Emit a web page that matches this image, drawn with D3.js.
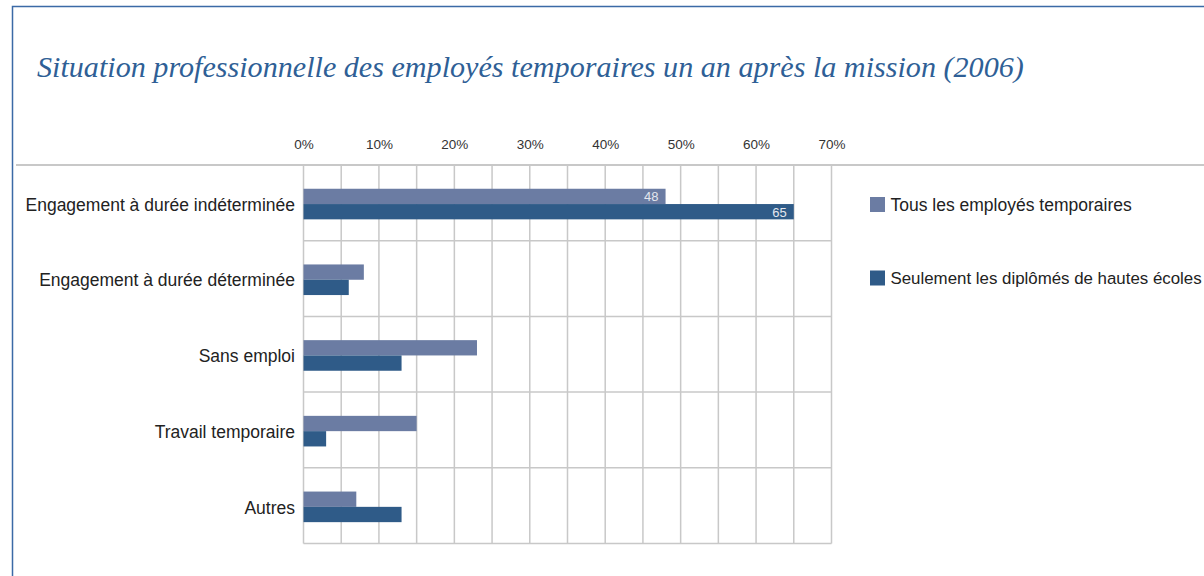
<!DOCTYPE html>
<html>
<head>
<meta charset="utf-8">
<script src="https://cdn.jsdelivr.net/npm/d3@7"></script>
<style>
  body { margin: 0; background: #fff; }
  svg { display: block; }
</style>
</head>
<body>
<div id="chart"></div>
<script>
// chart data
const categories = [
    "Engagement à durée indéterminée",
    "Engagement à durée déterminée",
    "Sans emploi",
    "Travail temporaire",
    "Autres"
];
const seriesNames = ["Tous les employés temporaires", "Seulement les diplômés de hautes écoles"];
const allTemps = [48, 8, 23, 15, 7];
const graduates = [65, 6, 13, 3, 13];
const tickValues = [0, 10, 20, 30, 40, 50, 60, 70];
const labelledCategory = "Engagement à durée indéterminée";

const titleText = "Situation professionnelle des employés temporaires un an après la mission (2006)";

const width = 1204, height = 576;
const colors = ["#6b7ca3", "#2f5b88"];
const gridColor = "#c8c8c8";
const textFont = "'Liberation Sans', Arial, sans-serif";

const svg = d3.select("#chart").append("svg")
    .attr("width", width)
    .attr("height", height);

// outer frame (blue line on left and top)
svg.append("rect")
    .attr("x", 12.5)
    .attr("y", 6.5)
    .attr("width", width + 20)
    .attr("height", height + 20)
    .attr("fill", "none")
    .attr("stroke", "#3b6aa6")
    .attr("stroke-width", 1.5);

// title
const title = svg.append("text")
    .attr("x", 37)
    .attr("y", 77)
    .attr("fill", "#2f5f96")
    .style("font-family", "'Liberation Serif', 'DejaVu Serif', serif")
    .style("font-style", "italic")
    .style("font-size", "27px")
    .text(titleText);
// stretch to the width seen in the reference
const tw = title.node().getComputedTextLength();
title.style("font-size", (27 * 987 / tw).toFixed(2) + "px");

// scales
const xScale = d3.scaleLinear()
    .domain([0, 70])
    .range([303.5, 831.5]);

const yScale = d3.scaleBand()
    .domain(categories)
    .range([165, 543.5]);

const barH = 15.3;

// long top rule
svg.append("line")
    .attr("x1", 16).attr("x2", width)
    .attr("y1", 165).attr("y2", 165)
    .attr("stroke", gridColor)
    .attr("stroke-width", 2);

// vertical gridlines every 5%
svg.append("g").selectAll("line")
    .data(d3.range(0, 71, 5))
    .join("line")
    .attr("x1", d => xScale(d)).attr("x2", d => xScale(d))
    .attr("y1", 165).attr("y2", 543.5)
    .attr("stroke", gridColor)
    .attr("stroke-width", 1.5);

// horizontal gridlines between categories
svg.append("g").selectAll("line")
    .data(categories.slice(1).map(c => yScale(c)).concat([543.5]))
    .join("line")
    .attr("x1", xScale(0)).attr("x2", xScale(70))
    .attr("y1", d => d).attr("y2", d => d)
    .attr("stroke", gridColor)
    .attr("stroke-width", 1.5);

// top axis labels
const xAxis = d3.axisTop(xScale)
    .tickValues(tickValues)
    .tickSize(0)
    .tickPadding(0)
    .tickFormat(d => d + "%");

svg.append("g")
    .attr("class", "x-axis")
    .attr("transform", "translate(0,149)")
    .call(xAxis)
    .call(g => g.select(".domain").remove())
    .call(g => g.selectAll("text")
        .attr("fill", "#333")
        .style("font-family", textFont)
        .style("font-size", "13.5px"));

// category labels
const yAxis = d3.axisLeft(yScale)
    .tickSize(0)
    .tickPadding(0);

svg.append("g")
    .attr("class", "y-axis")
    .attr("transform", "translate(295,0)")
    .call(yAxis)
    .call(g => g.select(".domain").remove())
    .call(g => g.selectAll("text")
        .attr("dy", "0.45em")
        .attr("fill", "#222")
        .style("font-family", textFont)
        .style("font-size", "17.5px"));

// bars
const rows = categories.map((c, i) => ({ cat: c, values: [allTemps[i], graduates[i]] }));

const groups = svg.append("g").selectAll("g")
    .data(rows)
    .join("g")
    .attr("transform", d => "translate(0," + (yScale(d.cat) + yScale.bandwidth() / 2 + 1.2) + ")");

groups.selectAll("rect")
    .data(d => d.values.map((v, s) => ({ v: v, s: s })))
    .join("rect")
    .attr("x", xScale(0))
    .attr("y", d => d.s === 0 ? -barH : 0)
    .attr("width", d => xScale(d.v) - xScale(0))
    .attr("height", barH)
    .attr("fill", d => colors[d.s]);

// value labels, only on the first category
groups.filter(d => d.cat === labelledCategory)
    .selectAll("text")
    .data(d => d.values.map((v, s) => ({ v: v, s: s })))
    .join("text")
    .attr("x", d => xScale(d.v) - 7)
    .attr("y", d => (d.s === 0 ? -barH : 0) + barH / 2)
    .attr("dy", "0.38em")
    .attr("text-anchor", "end")
    .attr("fill", "#e4e6ee")
    .style("font-family", textFont)
    .style("font-size", "13px")
    .text(d => d.v);

// legend
const legend = svg.append("g").selectAll("g")
    .data(seriesNames)
    .join("g")
    .attr("transform", (d, i) => "translate(870," + (197 + i * 73.5) + ")");

legend.append("rect")
    .attr("width", 15)
    .attr("height", 15)
    .attr("fill", (d, i) => colors[i]);

legend.append("text")
    .attr("x", 20.5)
    .attr("y", 13.7)
    .attr("fill", "#222")
    .style("font-family", textFont)
    .style("font-size", "17.5px")
    .text(d => d);

// keep the long legend entry inside the window
legend.selectAll("text").each(function () {
    const w = this.getComputedTextLength();
    const room = width - 870 - 20.5 - 2;
    if (w > room) d3.select(this).style("font-size", (17.5 * room / w).toFixed(2) + "px");
});
</script>
</body>
</html>
